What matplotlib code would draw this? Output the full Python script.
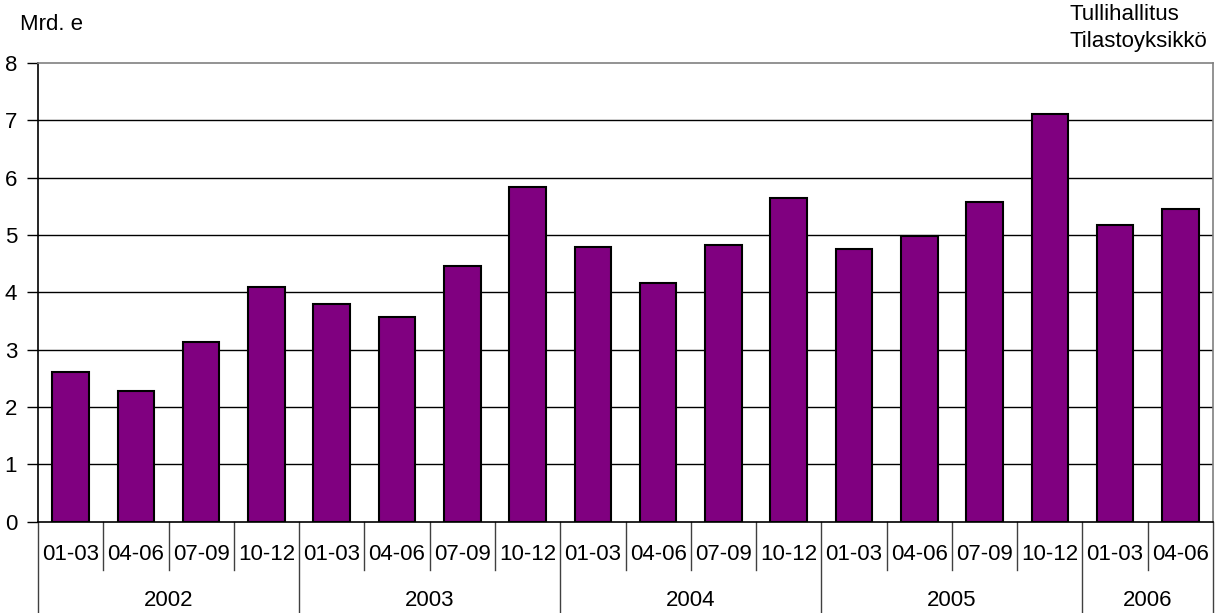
import matplotlib
matplotlib.use("Agg")
import matplotlib.pyplot as plt
from matplotlib.transforms import blended_transform_factory

plt.rcParams['font.family'] = ['Liberation Sans', 'DejaVu Sans']

quarters = ["01-03", "04-06", "07-09", "10-12"] * 4 + ["01-03", "04-06"]
years = ["2002", "2003", "2004", "2005", "2006"]
year_counts = [4, 4, 4, 4, 2]
values = [2.60, 2.28, 3.13, 4.10, 3.79, 3.57, 4.45, 5.83, 4.79, 4.16, 4.83, 5.64,
          4.76, 4.98, 5.58, 7.11, 5.17, 5.46]
yticks = [0, 1, 2, 3, 4, 5, 6, 7, 8]

FS = 16
W, H = 1221, 613
fig = plt.figure(figsize=(W / 100, H / 100), dpi=100)
ax = fig.add_axes([38 / W, 1 - 521.5 / H, (1213 - 38) / W, (521.5 - 63) / H])

n = len(values)
x = list(range(n))
ax.bar(x, values, width=0.56, color='#800080', edgecolor='black', linewidth=1.5, zorder=3)

ax.set_xlim(-0.5, n - 0.5)
ax.set_ylim(0, 8)
ax.set_yticks(yticks)
ax.set_yticklabels([str(t) for t in yticks], fontsize=FS)
ax.tick_params(axis='y', length=8, width=1, pad=7, color='black')
ax.tick_params(axis='x', length=0, labelbottom=False)
for yv in yticks[1:-1]:
    ax.axhline(yv, color='black', linewidth=1, zorder=1)

ax.spines['top'].set_color('#808080')
ax.spines['right'].set_color('#808080')
ax.spines['left'].set_color('black')
ax.spines['bottom'].set_color('black')
for s in ax.spines.values():
    s.set_linewidth(1.2)

trans = blended_transform_factory(ax.transData, ax.transAxes)
month_bottom = -(570 - 521.5) / (521.5 - 63)
year_bottom = -(613 - 521.5) / (521.5 - 63)
month_label_y = -(555 - 521.5) / (521.5 - 63)
year_label_y = -(601 - 521.5) / (521.5 - 63)

for i, q in enumerate(quarters):
    ax.text(i, month_label_y, q, transform=trans, ha='center', va='center', fontsize=FS)

year_bounds = [0]
for c in year_counts:
    year_bounds.append(year_bounds[-1] + c)
for i in range(n + 1):
    xb = i - 0.5
    yb = year_bottom if i in year_bounds else month_bottom
    ax.plot([xb, xb], [0, yb], transform=trans, color='#404040', linewidth=1, clip_on=False)

for k, yr in enumerate(years):
    center = (year_bounds[k] + year_bounds[k + 1]) / 2 - 0.5
    ax.text(center, year_label_y, yr, transform=trans, ha='center', va='center', fontsize=FS)

fig.text(20 / W, 1 - 25 / H, "Mrd. e", ha='left', va='center', fontsize=FS)
fig.text(1069 / W, 1 - 14 / H, "Tullihallitus", ha='left', va='center', fontsize=FS)
fig.text(1069 / W, 1 - 42 / H, "Tilastoyksikkö", ha='left', va='center', fontsize=FS)

fig.savefig("out.png", dpi=100)
